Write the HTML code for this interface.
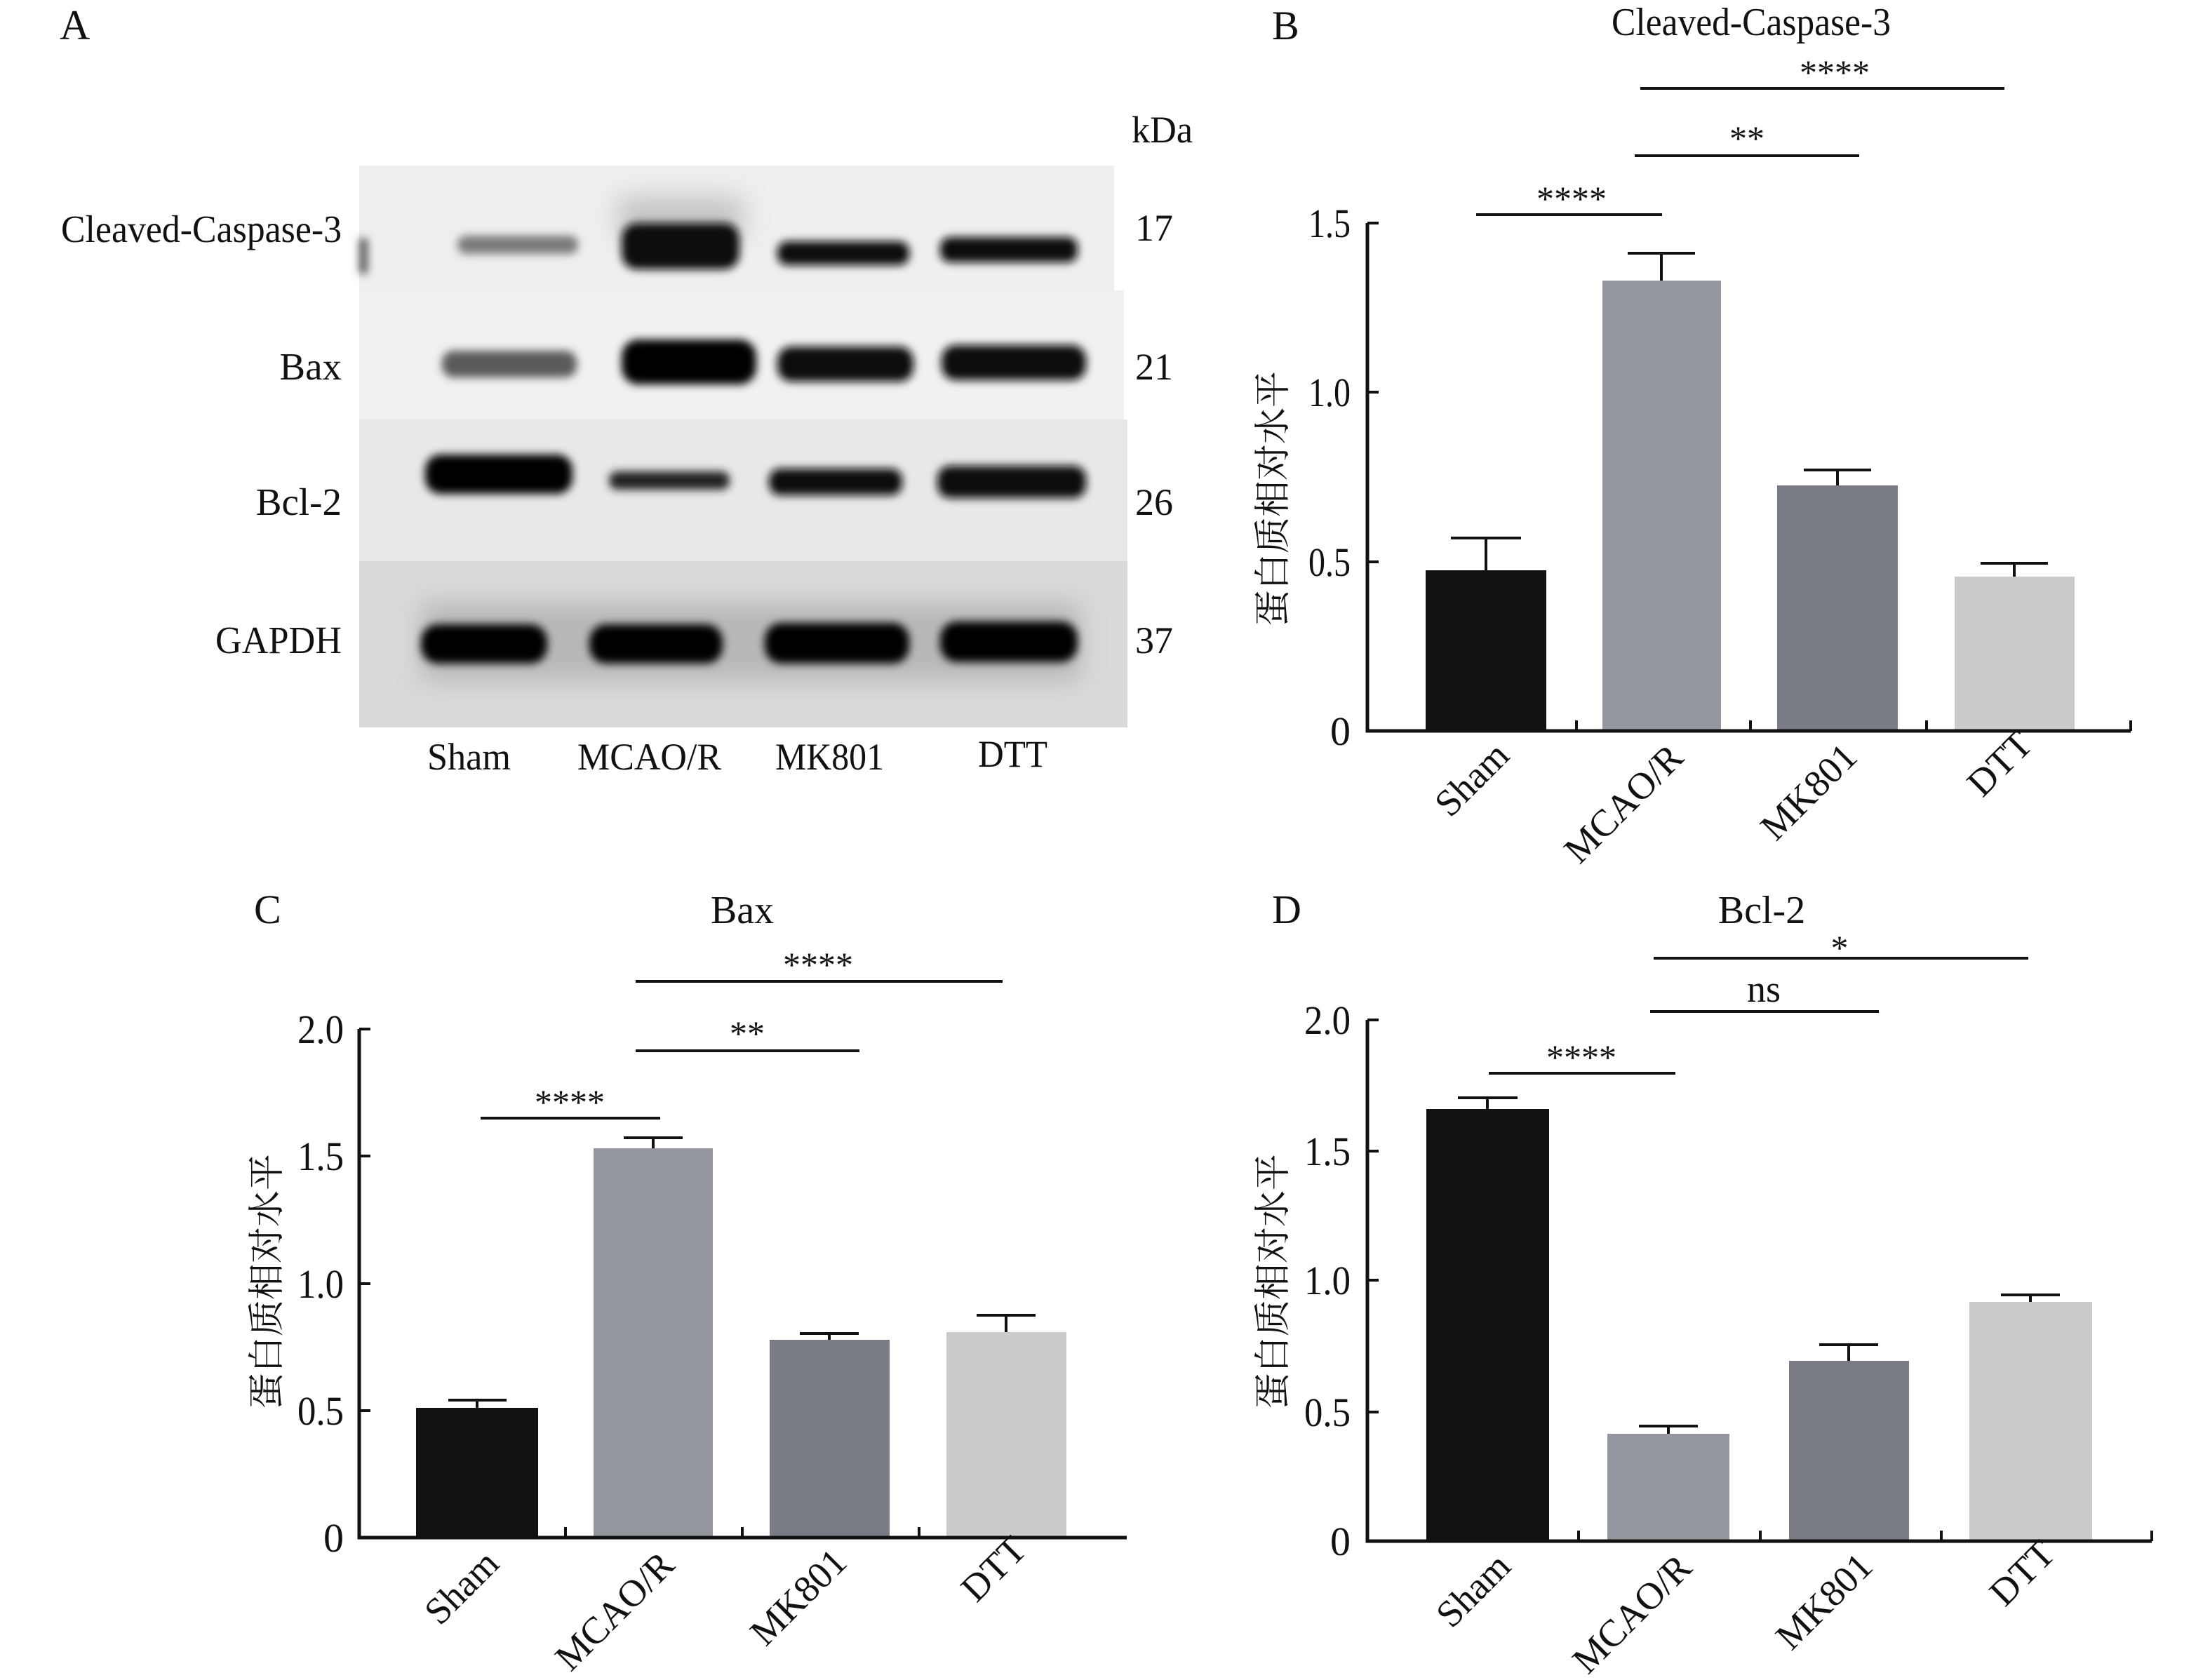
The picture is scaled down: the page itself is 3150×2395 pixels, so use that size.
<!DOCTYPE html>
<html><head><meta charset="utf-8"><style>
html,body{margin:0;padding:0;background:#fff;}
svg{display:block;}
text{font-family:"Liberation Serif","Noto Serif CJK SC",serif;fill:#111;}
.zh{font-family:"Liberation Serif","Noto Serif CJK SC","Noto Sans CJK SC",serif;}
</style></head><body>
<svg width="3150" height="2395" viewBox="0 0 3150 2395" xmlns="http://www.w3.org/2000/svg">
<defs>
<filter id="bl" x="-30%" y="-80%" width="160%" height="260%"><feGaussianBlur stdDeviation="6"/></filter>
<filter id="bl2" x="-30%" y="-80%" width="160%" height="260%"><feGaussianBlur stdDeviation="18"/></filter>
</defs>
<rect width="3150" height="2395" fill="#fff"/>

<!-- Panel A -->
<text x="85" y="56" font-size="60">A</text>
<text x="1613" y="203" font-size="54" textLength="87" lengthAdjust="spacingAndGlyphs">kDa</text>
<rect x="512" y="236" width="1076" height="178" fill="#efefef"/>
<rect x="512" y="414" width="1090" height="184" fill="#f1f1f1"/>
<rect x="512" y="598" width="1095" height="202" fill="#e8e8e8"/>
<rect x="512" y="800" width="1095" height="237" fill="#dadada"/>
<g filter="url(#bl2)" opacity="0.35">
<rect x="600" y="860" width="940" height="110" fill="#777"/>
<rect x="880" y="280" width="180" height="60" fill="#777"/>
</g>
<g filter="url(#bl)">
<rect x="652" y="336" width="172" height="26" rx="12" fill="#7a7a7a"/>
<rect x="886" y="318" width="168" height="66" rx="22" fill="#080808"/>
<rect x="1108" y="344" width="188" height="34" rx="14" fill="#101010"/>
<rect x="1340" y="338" width="196" height="36" rx="14" fill="#101010"/>
<rect x="512" y="340" width="12" height="50" fill="#555"/>
<rect x="630" y="500" width="192" height="38" rx="16" fill="#5a5a5a"/>
<rect x="886" y="484" width="192" height="64" rx="24" fill="#060606"/>
<rect x="1108" y="494" width="194" height="50" rx="20" fill="#111"/>
<rect x="1342" y="492" width="206" height="50" rx="20" fill="#101010"/>
<rect x="606" y="648" width="210" height="56" rx="22" fill="#050505"/>
<rect x="868" y="672" width="172" height="26" rx="12" fill="#222"/>
<rect x="1096" y="668" width="190" height="38" rx="16" fill="#111"/>
<rect x="1336" y="664" width="212" height="46" rx="18" fill="#0c0c0c"/>
<rect x="600" y="890" width="180" height="56" rx="24" fill="#050505"/>
<rect x="840" y="890" width="190" height="56" rx="24" fill="#050505"/>
<rect x="1090" y="888" width="206" height="58" rx="24" fill="#050505"/>
<rect x="1340" y="886" width="196" height="58" rx="24" fill="#050505"/>
</g>
<text x="487" y="345" font-size="55" text-anchor="end" textLength="400" lengthAdjust="spacingAndGlyphs">Cleaved-Caspase-3</text>
<text x="487" y="541" font-size="55" text-anchor="end">Bax</text>
<text x="487" y="734" font-size="55" text-anchor="end">Bcl-2</text>
<text x="487" y="931" font-size="55" text-anchor="end" textLength="180" lengthAdjust="spacingAndGlyphs">GAPDH</text>
<text x="1618" y="343" font-size="54">17</text>
<text x="1618" y="541" font-size="54">21</text>
<text x="1618" y="734" font-size="54">26</text>
<text x="1618" y="931" font-size="54">37</text>
<text x="609" y="1097" font-size="54" textLength="119" lengthAdjust="spacingAndGlyphs">Sham</text>
<text x="823" y="1097" font-size="54" textLength="205" lengthAdjust="spacingAndGlyphs">MCAO/R</text>
<text x="1105" y="1097" font-size="54" textLength="155" lengthAdjust="spacingAndGlyphs">MK801</text>
<text x="1394" y="1093" font-size="54" textLength="99" lengthAdjust="spacingAndGlyphs">DTT</text>

<!-- Panel B -->
<text x="1813" y="56" font-size="58">B</text>
<text x="2496" y="50" font-size="56" text-anchor="middle" textLength="398" lengthAdjust="spacingAndGlyphs">Cleaved-Caspase-3</text>
<g stroke="#111" stroke-width="4" fill="none">
<line x1="2338" y1="126" x2="2857" y2="126"/>
<line x1="2330" y1="222" x2="2650" y2="222"/>
<line x1="2104" y1="306" x2="2369" y2="306"/>
</g>
<g font-size="50" text-anchor="middle">
<text x="2615" y="120">****</text>
<text x="2490" y="214">**</text>
<text x="2240" y="300">****</text>
</g>
<rect x="2032" y="813" width="172" height="229" fill="#111"/>
<rect x="2284" y="400" width="169" height="642" fill="#95979f"/>
<rect x="2533" y="692" width="172" height="350" fill="#797c84"/>
<rect x="2786" y="822" width="171" height="220" fill="#cacbcd"/>
<g stroke="#111" stroke-width="4">
<line x1="2118" y1="813" x2="2118" y2="767"/><line x1="2068" y1="767" x2="2168" y2="767"/>
<line x1="2368" y1="400" x2="2368" y2="361"/><line x1="2320" y1="361" x2="2416" y2="361"/>
<line x1="2619" y1="692" x2="2619" y2="670"/><line x1="2571" y1="670" x2="2667" y2="670"/>
<line x1="2871" y1="822" x2="2871" y2="803"/><line x1="2823" y1="803" x2="2919" y2="803"/>
</g>
<polyline points="1949,318 1949,1042 3037,1042" stroke="#111" stroke-width="5" fill="none"/>
<g stroke="#111" stroke-width="4">
<line x1="1949" y1="318" x2="1965" y2="318"/><line x1="1949" y1="559" x2="1965" y2="559"/>
<line x1="1949" y1="801" x2="1965" y2="801"/><line x1="1949" y1="1042" x2="1965" y2="1042"/>
<line x1="2247" y1="1042" x2="2247" y2="1027"/><line x1="2495" y1="1042" x2="2495" y2="1027"/>
<line x1="2746" y1="1042" x2="2746" y2="1027"/><line x1="3037" y1="1042" x2="3037" y2="1027"/>
</g>
<g font-size="58" text-anchor="end">
<text x="1925" y="338" textLength="60" lengthAdjust="spacingAndGlyphs">1.5</text><text x="1925" y="579" textLength="60" lengthAdjust="spacingAndGlyphs">1.0</text>
<text x="1925" y="821" textLength="60" lengthAdjust="spacingAndGlyphs">0.5</text><text x="1925" y="1062">0</text>
</g>
<text class="zh" transform="translate(1832,711) rotate(-90)" font-size="52" text-anchor="middle">蛋白质相对水平</text>
<g font-size="54" text-anchor="end">
<text transform="translate(2154,1080) rotate(-45)">Sham</text>
<text transform="translate(2402,1083) rotate(-45)">MCAO/R</text>
<text transform="translate(2650,1082) rotate(-45)">MK801</text>
<text transform="translate(2900,1064) rotate(-45)">DTT</text>
</g>

<!-- Panel C -->
<text x="362" y="1316" font-size="58">C</text>
<text x="1058" y="1316" font-size="56" text-anchor="middle">Bax</text>
<g stroke="#111" stroke-width="4" fill="none">
<line x1="906" y1="1399" x2="1429" y2="1399"/>
<line x1="906" y1="1498" x2="1225" y2="1498"/>
<line x1="685" y1="1594" x2="941" y2="1594"/>
</g>
<g font-size="50" text-anchor="middle">
<text x="1166" y="1392">****</text>
<text x="1065" y="1490">**</text>
<text x="812" y="1588">****</text>
</g>
<rect x="593" y="2007" width="174" height="185" fill="#111"/>
<rect x="846" y="1637" width="170" height="555" fill="#95979f"/>
<rect x="1097" y="1910" width="171" height="282" fill="#797c84"/>
<rect x="1349" y="1899" width="171" height="293" fill="#cacbcd"/>
<g stroke="#111" stroke-width="4">
<line x1="680" y1="2007" x2="680" y2="1996"/><line x1="639" y1="1996" x2="722" y2="1996"/>
<line x1="931" y1="1637" x2="931" y2="1622"/><line x1="889" y1="1622" x2="973" y2="1622"/>
<line x1="1182" y1="1910" x2="1182" y2="1901"/><line x1="1140" y1="1901" x2="1224" y2="1901"/>
<line x1="1434" y1="1899" x2="1434" y2="1875"/><line x1="1392" y1="1875" x2="1476" y2="1875"/>
</g>
<polyline points="512,1467 512,2192 1606,2192" stroke="#111" stroke-width="5" fill="none"/>
<g stroke="#111" stroke-width="4">
<line x1="512" y1="1467" x2="528" y2="1467"/><line x1="512" y1="1648" x2="528" y2="1648"/>
<line x1="512" y1="1830" x2="528" y2="1830"/><line x1="512" y1="2011" x2="528" y2="2011"/>
<line x1="806" y1="2192" x2="806" y2="2177"/><line x1="1058" y1="2192" x2="1058" y2="2177"/>
<line x1="1310" y1="2192" x2="1310" y2="2177"/>
</g>
<g font-size="58" text-anchor="end">
<text x="490" y="1487" textLength="66" lengthAdjust="spacingAndGlyphs">2.0</text><text x="490" y="1668" textLength="66" lengthAdjust="spacingAndGlyphs">1.5</text>
<text x="490" y="1850" textLength="66" lengthAdjust="spacingAndGlyphs">1.0</text><text x="490" y="2031" textLength="66" lengthAdjust="spacingAndGlyphs">0.5</text><text x="490" y="2212">0</text>
</g>
<text class="zh" transform="translate(398,1827) rotate(-90)" font-size="52" text-anchor="middle">蛋白质相对水平</text>
<g font-size="54" text-anchor="end">
<text transform="translate(714,2232) rotate(-45)">Sham</text>
<text transform="translate(964,2234) rotate(-45)">MCAO/R</text>
<text transform="translate(1210,2230) rotate(-45)">MK801</text>
<text transform="translate(1466,2212) rotate(-45)">DTT</text>
</g>

<!-- Panel D -->
<text x="1813" y="1316" font-size="58">D</text>
<text x="2511" y="1316" font-size="56" text-anchor="middle">Bcl-2</text>
<g stroke="#111" stroke-width="4" fill="none">
<line x1="2357" y1="1366" x2="2891" y2="1366"/>
<line x1="2352" y1="1442" x2="2678" y2="1442"/>
<line x1="2122" y1="1530" x2="2388" y2="1530"/>
</g>
<g font-size="50" text-anchor="middle">
<text x="2622" y="1368">*</text>
<text x="2514" y="1428" font-size="54">ns</text>
<text x="2254" y="1524">****</text>
</g>
<rect x="2033" y="1581" width="175" height="616" fill="#111"/>
<rect x="2291" y="2044" width="174" height="153" fill="#95979f"/>
<rect x="2550" y="1940" width="171" height="257" fill="#797c84"/>
<rect x="2807" y="1856" width="175" height="341" fill="#cacbcd"/>
<g stroke="#111" stroke-width="4">
<line x1="2120" y1="1581" x2="2120" y2="1565"/><line x1="2078" y1="1565" x2="2163" y2="1565"/>
<line x1="2378" y1="2044" x2="2378" y2="2033"/><line x1="2336" y1="2033" x2="2420" y2="2033"/>
<line x1="2635" y1="1940" x2="2635" y2="1917"/><line x1="2593" y1="1917" x2="2677" y2="1917"/>
<line x1="2894" y1="1856" x2="2894" y2="1846"/><line x1="2852" y1="1846" x2="2936" y2="1846"/>
</g>
<polyline points="1949,1454 1949,2197 3067,2197" stroke="#111" stroke-width="5" fill="none"/>
<g stroke="#111" stroke-width="4">
<line x1="1949" y1="1454" x2="1965" y2="1454"/><line x1="1949" y1="1641" x2="1965" y2="1641"/>
<line x1="1949" y1="1825" x2="1965" y2="1825"/><line x1="1949" y1="2013" x2="1965" y2="2013"/>
<line x1="2250" y1="2197" x2="2250" y2="2182"/><line x1="2509" y1="2197" x2="2509" y2="2182"/>
<line x1="2767" y1="2197" x2="2767" y2="2182"/><line x1="3067" y1="2197" x2="3067" y2="2182"/>
</g>
<g font-size="58" text-anchor="end">
<text x="1925" y="1474" textLength="66" lengthAdjust="spacingAndGlyphs">2.0</text><text x="1925" y="1661" textLength="66" lengthAdjust="spacingAndGlyphs">1.5</text>
<text x="1925" y="1845" textLength="66" lengthAdjust="spacingAndGlyphs">1.0</text><text x="1925" y="2033" textLength="66" lengthAdjust="spacingAndGlyphs">0.5</text><text x="1925" y="2217">0</text>
</g>
<text class="zh" transform="translate(1832,1827) rotate(-90)" font-size="52" text-anchor="middle">蛋白质相对水平</text>
<g font-size="54" text-anchor="end">
<text transform="translate(2156,2236) rotate(-45)">Sham</text>
<text transform="translate(2414,2238) rotate(-45)">MCAO/R</text>
<text transform="translate(2672,2236) rotate(-45)">MK801</text>
<text transform="translate(2932,2218) rotate(-45)">DTT</text>
</g>
</svg>
</body></html>
